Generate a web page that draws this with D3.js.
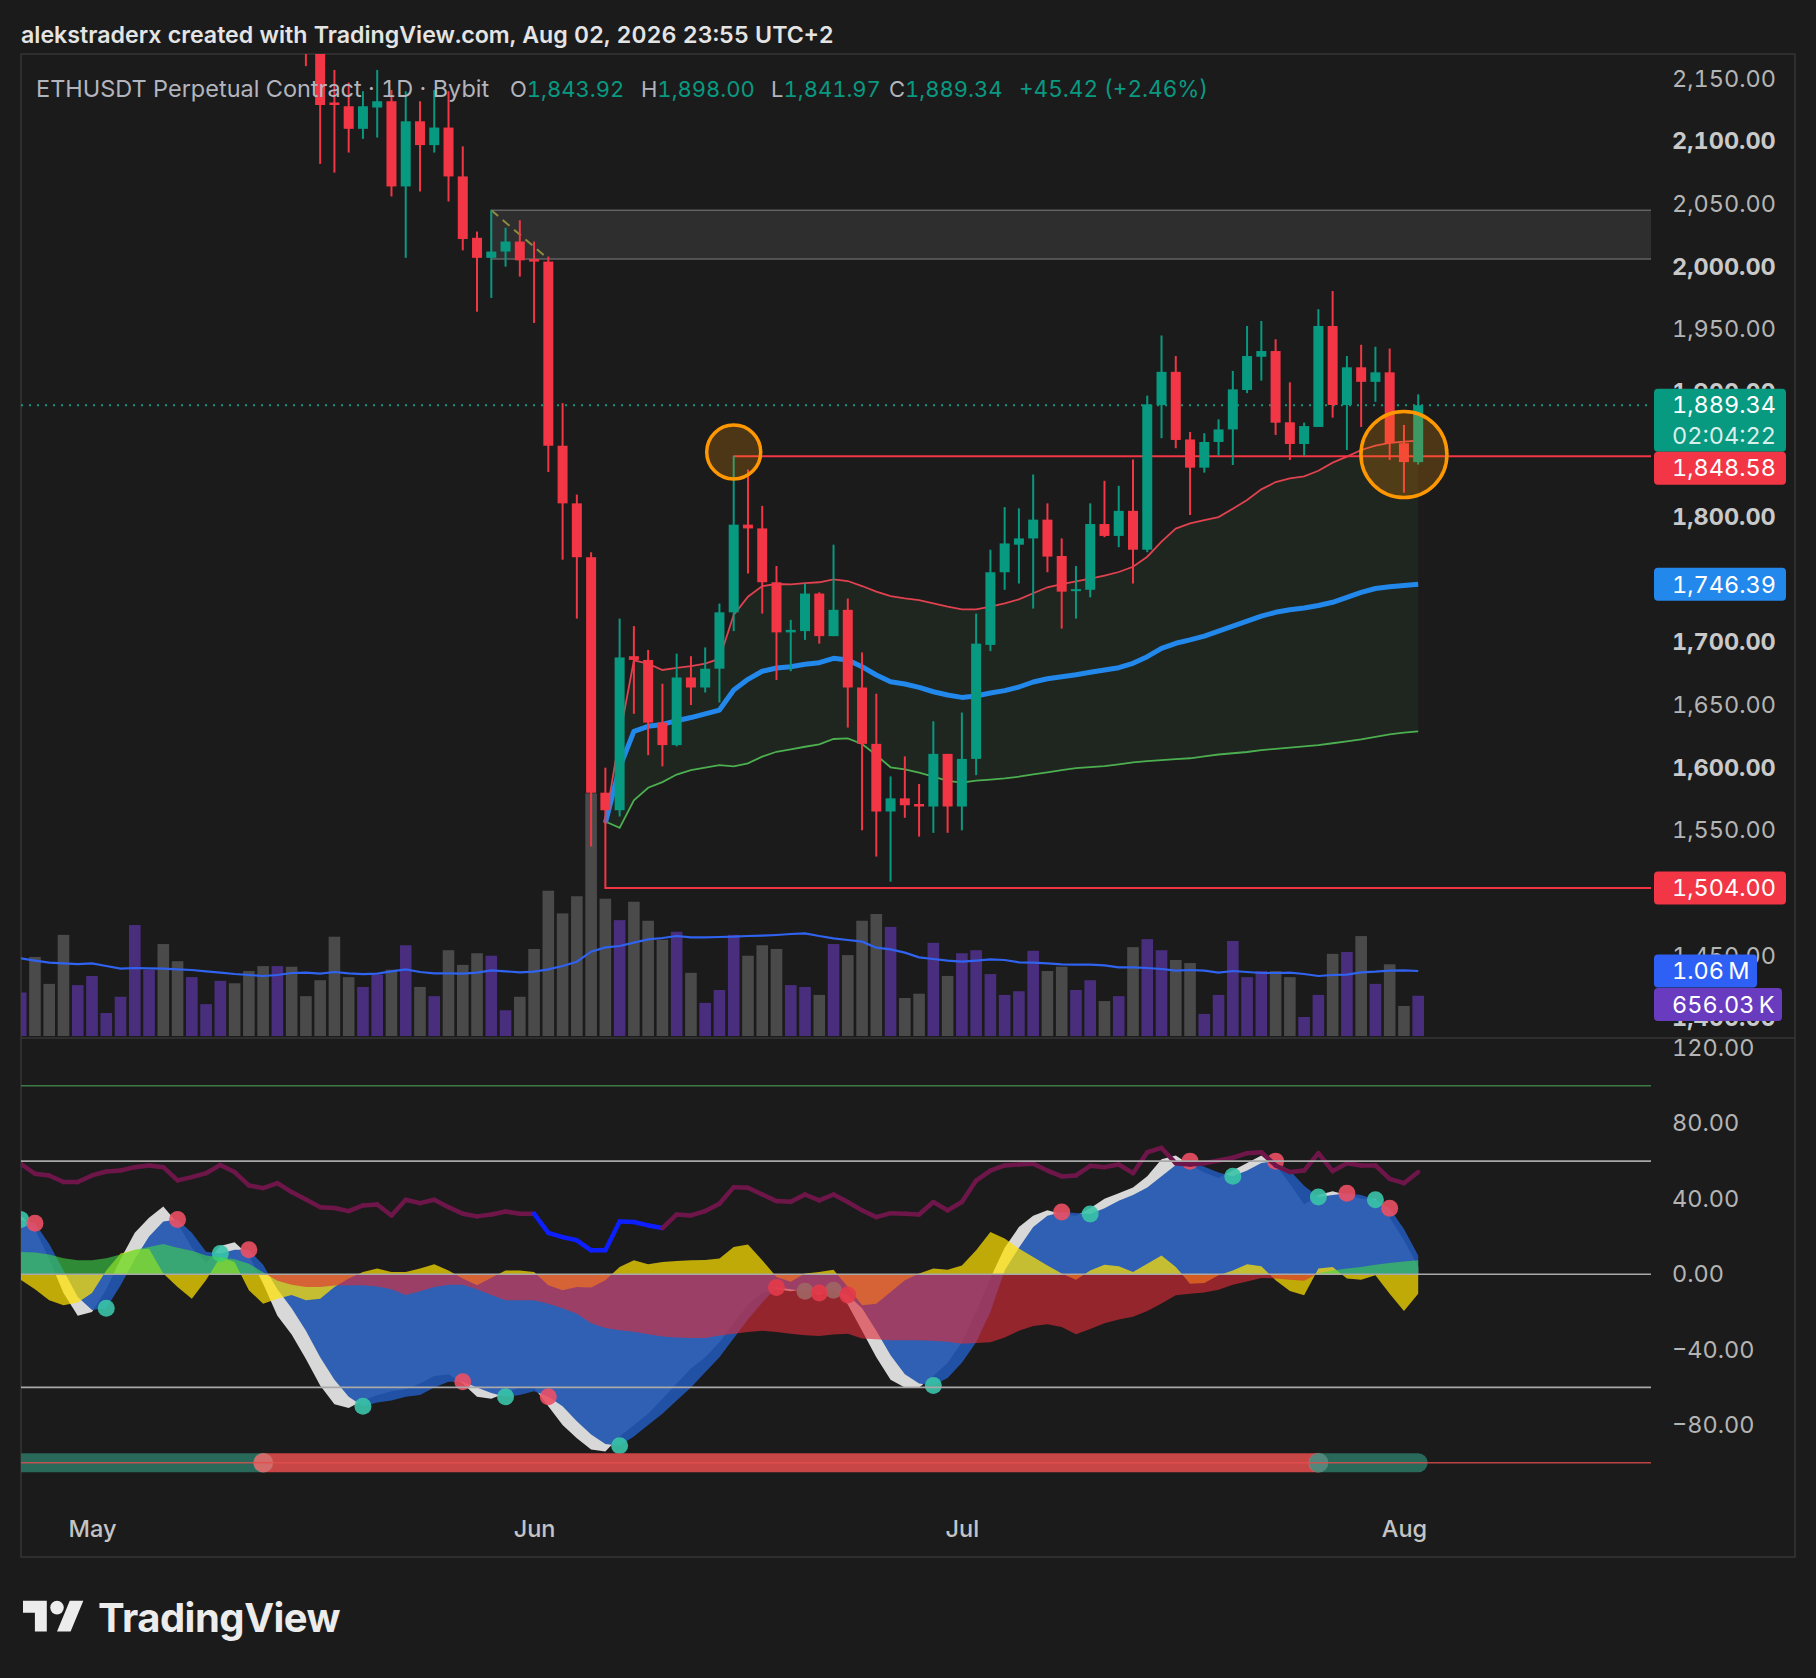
<!DOCTYPE html>
<html><head><meta charset="utf-8">
<script src="https://cdn.jsdelivr.net/npm/d3@7"></script>
<style>
html,body{margin:0;padding:0;background:#1b1b1b;}
svg{display:block;font-family:Inter,"Noto Sans",sans-serif;font-variant-numeric:tabular-nums;}
</style></head><body>
<svg id="c" width="1816" height="1678"></svg>
<script>
// ---------------- DATA ----------------
const dates = d3.utcDay.range(new Date(Date.UTC(2026,3,26)), new Date(Date.UTC(2026,7,3))); // Apr 26 .. Aug 2
const open  = [2290,2330,2300,2255,2210,2232,2255,2268,2282,2335,2352,2305,2270,2282,2288,2302,2270,2245,2218,2238,2215,2188,2131,2128,2110,2127,2132,2064,2116,2097,2111,2072,2023,2007,2012,2020,2006,2004,1857,1811,1768,1580,1566,1689,1686,1636,1618,1672,1664,1679,1724,1794,1791,1748,1708,1709,1739,1705,1726,1664,1619,1565,1575.5,1571,1569,1611,1569,1607,1698,1756,1778,1783,1798,1769,1741,1742,1794.5,1785,1805,1774,1889.5,1916,1862,1839.5,1860,1870,1901.5,1928,1932.6,1875.7,1858.4,1872,1952.6,1889.5,1919.6,1908,1915.6,1859,1843.92];
const high  = [2345,2350,2310,2270,2245,2265,2275,2290,2345,2370,2365,2318,2290,2295,2310,2308,2280,2255,2248,2245,2232,2200,2157,2147,2140,2157,2141,2140,2132,2141,2140,2096,2028,2045,2031,2037,2020,2008,1891,1818,1772,1600,1719,1713,1694,1667,1691,1689,1696,1731,1849,1838,1809,1761,1718,1747,1740,1778,1735,1692,1659,1593,1609,1587,1637,1611,1644,1723,1774,1808,1807,1834,1811,1783,1761,1811,1829,1825,1846,1897,1945,1928.6,1868,1867,1878,1916.7,1952.6,1956.6,1942,1907.6,1875.4,1966,1980.5,1928.6,1937.6,1936,1934.6,1873.6,1898];
const low   = [2270,2280,2240,2195,2190,2220,2245,2255,2275,2320,2290,2255,2248,2270,2275,2262,2232,2205,2210,2205,2160,2082,2075,2091,2102,2103,2056,2007,2060,2091,2052,2013,1964,1975,2000,1992,1955,1836,1766,1719,1537,1555,1561,1643,1610,1601,1617,1650,1660,1652,1709,1755,1723,1670,1677,1702,1699,1705,1632,1550,1529,1509,1560,1545,1548,1548,1550,1594,1693,1742,1747,1727,1756,1711,1719,1736,1784,1776,1747,1772,1863,1855,1801.7,1835.5,1849,1841.6,1899,1909,1865.6,1845.6,1849,1872,1879.4,1853.6,1872,1892,1845.6,1819.5,1841.97];
const close = [2330,2300,2255,2210,2232,2255,2268,2282,2335,2352,2305,2270,2282,2288,2302,2270,2245,2218,2238,2215,2188,2129,2129,2110,2128,2132,2064,2116,2097,2111,2072,2022,2007,2012,2020,2005,2004,1857,1811,1768,1580,1566,1688,1686,1636,1618,1672,1664,1679,1724,1794,1791,1748,1708,1710,1739,1705,1726,1664,1619,1565,1575.5,1570,1569,1611,1569,1607,1699,1756,1779,1783,1798,1768.5,1740.5,1742.5,1794.5,1785,1805,1774,1890,1916,1861.6,1839.5,1860,1870,1902,1928.6,1932.6,1875.4,1858.4,1872.7,1952.6,1889.5,1919.6,1908,1915.6,1859,1843.92,1889.34];
const volume = [0.71,1.29,0.85,1.65,0.83,0.98,0.375,0.64,1.81,1.08,1.50,1.22,0.96,0.52,0.90,0.86,1.06,1.14,1.14,1.13,0.65,0.91,1.62,0.96,0.80,1.00,1.08,1.48,0.80,0.65,1.40,1.16,1.35,1.31,0.42,0.64,1.42,2.37,2.00,2.28,3.96,2.24,1.89,2.19,1.88,1.57,1.70,1.03,0.54,0.75,1.65,1.31,1.48,1.42,0.83,0.80,0.67,1.50,1.32,1.88,1.99,1.78,0.62,0.69,1.52,0.98,1.35,1.40,1.01,0.67,0.73,1.39,1.06,1.13,0.75,0.91,0.57,0.65,1.45,1.58,1.40,1.24,1.19,0.36,0.67,1.55,0.96,1.06,1.06,0.96,0.31,0.67,1.34,1.37,1.63,0.85,1.17,0.49,0.65603];
const volumeMA = [1.267,1.229,1.196,1.185,1.174,1.185,1.142,1.098,1.109,1.104,1.098,1.087,1.077,1.055,1.033,1.011,0.995,0.979,0.995,1.028,1.033,1.017,1.044,1.022,1.011,1.017,1.055,1.087,1.044,1.022,1.022,1.017,1.033,1.071,1.055,1.038,1.049,1.087,1.142,1.212,1.376,1.446,1.468,1.523,1.577,1.599,1.631,1.610,1.610,1.615,1.620,1.631,1.637,1.648,1.664,1.675,1.631,1.593,1.566,1.539,1.441,1.414,1.360,1.283,1.256,1.229,1.212,1.229,1.251,1.240,1.202,1.196,1.185,1.169,1.163,1.163,1.153,1.120,1.120,1.109,1.093,1.066,1.077,1.066,1.033,1.060,1.044,1.028,1.028,1.033,1.011,0.979,0.995,1.000,1.038,1.049,1.066,1.07,1.06];
// anchored VWAP + bands, starting at bar index 41 (Jun 6)
const anchorIndex = 41;
const vwapLine  = [1556,1600,1629,1633,1634.5,1637.5,1640,1643,1646,1662,1670.5,1677,1679.6,1680.6,1682.5,1683.8,1687.3,1686,1680.6,1674,1668.6,1666.8,1664.1,1660.6,1658,1656.1,1657.2,1659.6,1661.5,1664.4,1668.4,1671,1672.6,1674.2,1676.1,1678,1679.8,1683.3,1688.6,1695.3,1699.3,1702,1705,1709,1713,1717,1721,1724,1726,1727.5,1729.5,1732,1736,1740,1743,1744.5,1745.5,1746.39];
const upperBand = [1557,1625,1685.6,1683,1678,1679.6,1681,1683,1687,1722,1736.5,1745,1746.6,1746.4,1747.4,1748,1750.3,1749,1745,1740.5,1737,1735.2,1733.8,1731.2,1728.5,1726.4,1726.4,1728.5,1731.2,1734.4,1739.2,1744,1746.6,1748.8,1750.9,1753.3,1756.2,1760.4,1768.4,1780.4,1790.8,1795,1797.7,1800,1806.7,1813.7,1822.2,1828,1831,1832.6,1837,1843.5,1848.3,1853.6,1857,1859.2,1860.2,1861];
const lowerBand = [1557,1552,1574,1584,1588.5,1594.5,1598,1600,1602,1601,1603.5,1608.8,1612.7,1614.6,1616.7,1618.6,1622.9,1623.4,1618.9,1610,1600.3,1598.7,1596,1592.8,1589.4,1588,1589.6,1590.5,1591.5,1592.8,1594.7,1596.3,1598.1,1599.7,1600.5,1601.3,1602.7,1604.3,1605.3,1606.1,1606.9,1607.5,1609,1610.5,1611.5,1612.5,1614,1615,1616,1617,1618,1619.5,1621,1622.5,1624.5,1626.5,1628,1629];
// oscillator series
const rsi = [58.6,53.3,52.4,48.9,48.9,52.4,54.5,55.0,56.8,57.7,56.8,49.8,51.5,53.6,58.0,54.2,47.1,45.7,48.3,43.6,39.7,35.6,35.1,33.5,36.5,37.0,31.2,39.5,37.7,39.5,35.6,32.1,30.7,31.7,33.3,32.1,32.1,21.9,19.7,18.0,12.7,12.7,28.0,27.7,25.9,24.5,31.7,31.2,33.5,37.4,46.2,45.9,42.3,38.8,38.4,42.3,39.2,42.3,38.3,33.9,30.3,32.4,32.1,31.7,38.3,33.9,38.3,49.7,55.0,57.7,58.2,58.6,55.0,51.9,52.4,57.5,56.8,58.2,53.6,64.7,67.0,58.9,58.2,58.9,60.3,61.8,64.2,64.7,57.7,54.2,55.0,64.2,54.7,58.9,57.7,57.7,50.6,48.3,54.2];
const wave1 = [31,24,8,-10,-22,-20,-8,8,22,30,36,27,14,6,15,17,10,-5,-22,-32,-45,-59,-69,-71,-67,-64,-62,-61,-58,-54,-53,-58,-65,-66,-63,-60,-60,-70,-80,-87,-93,-94,-86,-80,-74,-66,-58,-50,-44,-36,-26,-16,-10,-8,-9,-8,-11,-7,-16,-30,-44,-56,-60,-60,-54,-47,-36,-20,-2,14,25,31,34,32,31,35,40,43,46,52,61,63,58,54,51,55,59,63,58,48,37,42,44,42,40,40,30,18,4];
const wave2 = [29,27,16,2,-12,-19,-18,-6,8,20,28,29,22,12,11,13,13,5,-8,-18,-30,-44,-56,-65,-70,-68,-67,-65,-64,-60,-57,-57,-60,-63,-65,-64,-62,-65,-70,-78,-85,-90,-91,-86,-80,-74,-67,-60,-52,-44,-34,-24,-15,-7,-8,-9,-10,-8.5,-11,-18,-30,-43,-53,-58,-59,-55,-47,-36,-20,2,14,25,31,33,32.5,32,35,39,42,46,52,58,60,57,54,52,55,59,60,55,47,41,42,43,42,39.5,35,24,10];
const vwapOsc = [-3,-8,-13.8,-16.5,-15,-10,2,11,13,13.5,0.4,-6.7,-13,-3,9.2,6.5,-8.5,-15.6,-13,-11,-13.8,-13,-6.7,-2.3,1.2,3,1.2,1.2,3,5.3,2,-2.3,-5.8,-1.8,2,2,1.2,-5.8,-8.5,-6.7,-7,-3.2,3.9,7.4,5.3,6.5,7,7.4,7.5,8.3,14.4,15.8,7.4,-1.4,-4,0.4,1.2,2.4,-6.7,-16.5,-15.6,-9.4,-3.2,0.4,3,2.4,4.7,12.7,22.4,18.9,13.6,9.2,4.7,0.4,-2.9,2,5,4.2,1.2,5.6,10,3.9,-5,-4.6,-0.5,2,5.3,4.2,-3.2,-8.9,-11.2,3,3.9,-2.3,-2.9,-0.5,-10.3,-19.5,-10.3];
const mfi = [11.8,11.5,10.5,8.5,7.4,7.4,8.5,10.5,13,14.5,16,14,12.5,10,9,8,5.6,1,-3.5,-5.5,-6.7,-6.7,-6,-5.8,-5.8,-6.5,-8,-11,-9,-6.7,-5.5,-5.5,-8,-11,-13.8,-13.8,-13.8,-15.6,-18,-21,-26,-28.5,-29.7,-30.5,-31.8,-33,-33.5,-33.8,-33.8,-32.5,-31.5,-30.6,-30,-30.6,-31.5,-32.4,-32.8,-32,-31.5,-34.1,-34.5,-35,-35,-35,-35.3,-35.8,-36.8,-36.5,-36,-33.5,-30,-27.5,-26.5,-28,-31.8,-29,-26,-24,-22.6,-19.5,-15.5,-11.2,-10.3,-9.7,-8.2,-5.5,-3.8,-2,-2.2,-2.9,-3.5,0.5,2,3,3.9,5,6,6.8,7.4];
const crossUpDays   = [0,6,14,24,34,42,55,57,64,75,85,91,95];
const crossDownDays = [1,11,16,31,37,53,56,58,73,82,88,93,96];
const mfiBarSegments = [{from:0,to:17,bull:true},{from:17,to:91,bull:false},{from:91,to:98,bull:true}];
// drawings
const supplyZone = {fromIndex:33, top:2045, bottom:2006};
const supplyDiagonal = [{i:33,p:2045},{i:37,p:2006}];
const resistance = {fromIndex:50, price:1848.58};
const support = {fromIndex:41, startPrice:1556, price:1504};
const highlightCircles = [{i:50, p:1852}, {i:97, p:1850}];
// axis ticks / texts (ticks fully hidden behind price labels are omitted, as in the reference)
const priceTicks = [1400,1450,1550,1600,1650,1700,1800,1900,1950,2000,2050,2100,2150];
const oscTicks = [120,80,40,0,-40,-80];
const oscLevels = [{v:100,c:'#3d7a44'},{v:60,c:'#a9a9a9'},{v:0,c:'#a9a9a9'},{v:-60,c:'#a9a9a9'}];
const monthTicks = [new Date(Date.UTC(2026,4,1)),new Date(Date.UTC(2026,5,1)),new Date(Date.UTC(2026,6,1)),new Date(Date.UTC(2026,7,1))];
const headerText = 'alekstraderx created with TradingView.com, Aug 02, 2026 23:55 UTC+2';
const symbolText = 'ETHUSDT Perpetual Contract · 1D · Bybit';
const ohlcLegend = [{k:'O',v:'1,843.92'},{k:'H',v:'1,898.00'},{k:'L',v:'1,841.97'},{k:'C',v:'1,889.34'}];
const changeText = '+45.42 (+2.46%)';
const countdown = '02:04:22';

// ---------------- LAYOUT ----------------
const W=1816,H=1678;
const FX0=21,FX1=1795,FY0=54,FY1=1557;
const PL=21,PR=1651;
const P_TOP=54,P_BOT=1038,O_TOP=1038,O_BOT=1500;
const AX=1672, BOXX=1654, FS=23.5;
const UP='#089981', DN='#f23645';

const x = d3.scaleUtc().domain([dates[0],dates[98]]).range([20.7,1418.2]);
const y = d3.scaleLinear().domain([1550,2150]).range([830.3,78.7]);
const yv = d3.scaleLinear().domain([0,1]).range([1036,974.7]);
const yo = d3.scaleLinear().domain([-100,120]).range([1462.8,1048]);
const X = i => x(dates[i]);

const svg = d3.select('#c');
svg.append('rect').attr('width',W).attr('height',H).attr('fill','#1b1b1b');
const defs = svg.append('defs');
defs.append('clipPath').attr('id','cp').append('rect').attr('x',PL).attr('y',P_TOP).attr('width',PR-PL).attr('height',P_BOT-P_TOP-1);
defs.append('clipPath').attr('id','co').append('rect').attr('x',PL).attr('y',O_TOP+1).attr('width',PR-PL).attr('height',O_BOT-O_TOP-1);
defs.append('clipPath').attr('id','cpos').append('rect').attr('x',0).attr('y',0).attr('width',W).attr('height',yo(0));
defs.append('clipPath').attr('id','cneg').append('rect').attr('x',0).attr('y',yo(0)).attr('width',W).attr('height',H);

// frame
svg.append('rect').attr('x',FX0).attr('y',FY0).attr('width',FX1-FX0).attr('height',FY1-FY0)
  .attr('fill','none').attr('stroke','#363636').attr('stroke-width',1.5);
svg.append('line').attr('x1',FX0).attr('x2',FX1).attr('y1',P_BOT).attr('y2',P_BOT).attr('stroke','#363636').attr('stroke-width',1.5);

// ---------------- PRICE PANE ----------------
const gp = svg.append('g').attr('clip-path','url(#cp)');
const bandIdx = d3.range(anchorIndex, 99);
gp.append('path').datum(bandIdx)
  .attr('d', d3.area().x(i=>X(i)).y0(i=>y(lowerBand[i-anchorIndex])).y1(i=>y(upperBand[i-anchorIndex])))
  .attr('fill','rgba(90,170,90,0.07)');
gp.selectAll('rect.vol').data(d3.range(99)).join('rect')
  .attr('x',i=>X(i)-5.8).attr('width',11.6)
  .attr('y',i=>yv(volume[i])).attr('height',i=>yv(0)-yv(volume[i]))
  .attr('fill',i=>close[i]>=open[i]?'#4a2e7e':'#4a4a4a');
gp.append('path').datum(d3.range(99))
  .attr('d',d3.line().x(i=>X(i)).y(i=>yv(volumeMA[i])))
  .attr('fill','none').attr('stroke','#2f63f0').attr('stroke-width',2.2);
gp.append('rect').attr('x',X(supplyZone.fromIndex)).attr('y',y(supplyZone.top))
  .attr('width',PR+5-X(supplyZone.fromIndex)).attr('height',y(supplyZone.bottom)-y(supplyZone.top))
  .attr('fill','rgba(255,255,255,0.085)').attr('stroke','rgba(255,255,255,0.28)').attr('stroke-width',1.5);
gp.append('line').attr('x1',X(supplyDiagonal[0].i)).attr('y1',y(supplyDiagonal[0].p))
  .attr('x2',X(supplyDiagonal[1].i)).attr('y2',y(supplyDiagonal[1].p))
  .attr('stroke','#8f8c3e').attr('stroke-width',2).attr('stroke-dasharray','9 6');
const bl = arr => d3.line().x(i=>X(i)).y(i=>y(arr[i-anchorIndex]));
gp.append('path').datum(bandIdx).attr('d',bl(upperBand)).attr('fill','none').attr('stroke','#e0424f').attr('stroke-width',1.8);
gp.append('path').datum(bandIdx).attr('d',bl(lowerBand)).attr('fill','none').attr('stroke','#4caf50').attr('stroke-width',1.8);
gp.append('path').datum(bandIdx).attr('d',bl(vwapLine)).attr('fill','none').attr('stroke','#2288ec').attr('stroke-width',5).attr('stroke-linejoin','round');
gp.append('line').attr('x1',X(resistance.fromIndex)).attr('x2',PR).attr('y1',y(resistance.price)).attr('y2',y(resistance.price))
  .attr('stroke',DN).attr('stroke-width',2);
gp.append('path').attr('d',`M${X(support.fromIndex)},${y(support.startPrice)}V${y(support.price)}H${PR}`)
  .attr('fill','none').attr('stroke',DN).attr('stroke-width',2);
gp.append('line').attr('x1',PL).attr('x2',PR).attr('y1',y(close[98])).attr('y2',y(close[98]))
  .attr('stroke',UP).attr('stroke-width',2).attr('stroke-dasharray','2 6');
const cg = gp.append('g');
d3.range(99).forEach(i=>{
  const c = close[i]>=open[i]?UP:DN;
  cg.append('line').attr('x1',X(i)).attr('x2',X(i)).attr('y1',y(high[i])).attr('y2',y(low[i])).attr('stroke',c).attr('stroke-width',2);
  const t=y(Math.max(open[i],close[i])), b=y(Math.min(open[i],close[i]));
  cg.append('rect').attr('x',X(i)-5).attr('width',10).attr('y',t).attr('height',Math.max(2,b-t)).attr('fill',c);
});
const circR=[27,43];
highlightCircles.forEach((cc,k)=>{
  gp.append('circle').attr('cx',X(cc.i)).attr('cy',y(cc.p)).attr('r',circR[k])
    .attr('fill','rgba(255,152,0,0.22)').attr('stroke','#ff9800').attr('stroke-width',3.5);
});

// ---------------- OSCILLATOR ----------------
const go = svg.append('g').attr('clip-path','url(#co)');
const all = d3.range(99);
const oArea = arr => d3.area().x(i=>X(i)).y0(yo(0)).y1(i=>yo(arr[i]));
go.append('path').datum(all).attr('d',oArea(wave1)).attr('fill','#d8d8d8');
go.append('path').datum(all).attr('d',oArea(wave2)).attr('fill','rgba(34,86,176,0.92)');
go.append('path').datum(all).attr('d',oArea(vwapOsc)).attr('fill','rgba(255,226,0,0.72)');
crossUpDays.forEach(i=>go.append('circle').attr('cx',X(i)).attr('cy',yo(wave2[i])).attr('r',8.5).attr('fill','rgba(58,196,168,0.9)'));
crossDownDays.forEach(i=>go.append('circle').attr('cx',X(i)).attr('cy',yo(wave2[i])).attr('r',8.5).attr('fill','rgba(236,80,100,0.9)'));
go.append('path').datum(all).attr('d',oArea(mfi)).attr('fill','rgba(62,215,72,0.6)').attr('clip-path','url(#cpos)');
go.append('path').datum(all).attr('d',oArea(mfi)).attr('fill','rgba(222,44,56,0.62)').attr('clip-path','url(#cneg)');
for(let i=1;i<99;i++){
  go.append('line').attr('x1',X(i-1)).attr('y1',yo(rsi[i-1])).attr('x2',X(i)).attr('y2',yo(rsi[i]))
    .attr('stroke',rsi[i]<30?'#0d1fff':'#6e1649').attr('stroke-width',4.5).attr('stroke-linecap','round');
}
oscLevels.forEach(l=>go.append('line').attr('x1',PL).attr('x2',PR).attr('y1',yo(l.v)).attr('y2',yo(l.v)).attr('stroke',l.c).attr('stroke-width',1.6));
mfiBarSegments.forEach(s=>{
  go.append('line').attr('x1',X(s.from)).attr('x2',X(s.to)).attr('y1',yo(-100)).attr('y2',yo(-100))
    .attr('stroke',s.bull?'#28695a':'#c84646').attr('stroke-width',19).attr('stroke-linecap','round');
});
mfiBarSegments.slice(1).forEach(s=>go.append('circle').attr('cx',X(s.from)).attr('cy',yo(-100)).attr('r',10).attr('fill','rgba(255,255,255,0.2)'));
go.append('line').attr('x1',PL).attr('x2',PR).attr('y1',yo(-100)).attr('y2',yo(-100)).attr('stroke','rgba(228,78,78,0.8)').attr('stroke-width',1.6);

// ---------------- AXES ----------------
const pa = svg.append('g').attr('transform',`translate(${AX},0)`)
  .call(d3.axisRight(y).tickValues(priceTicks).tickFormat(d3.format(',.2f')).tickSize(0).tickPadding(0));
pa.select('.domain').remove();
pa.selectAll('text').attr('font-size',FS).attr('font-family','Inter')
  .attr('font-weight',d=>d%100===0?700:400).attr('fill',d=>d%100===0?'#c9c9c9':'#b4b4b4');
const oa = svg.append('g').attr('transform',`translate(${AX},0)`)
  .call(d3.axisRight(yo).tickValues(oscTicks).tickFormat(d=>(d<0?'\u2212':'')+Math.abs(d).toFixed(2)).tickSize(0).tickPadding(0));
oa.select('.domain').remove();
oa.selectAll('text').attr('font-size',FS).attr('font-family','Inter').attr('fill','#b4b4b4');
const ta = svg.append('g').attr('transform','translate(0,1520)')
  .call(d3.axisBottom(x).tickValues(monthTicks).tickFormat(d3.utcFormat('%b')).tickSize(0).tickPadding(0));
ta.select('.domain').remove();
ta.selectAll('text').attr('font-size',FS).attr('font-family','Inter').attr('font-weight',500).attr('fill','#c4c4c4');

// ---------------- LABEL BOXES ----------------
function box(yTop, h, w, fill, lines){
  svg.append('rect').attr('x',BOXX).attr('y',yTop).attr('width',w).attr('height',h).attr('rx',4).attr('fill',fill);
  lines.forEach((t,k)=>svg.append('text').attr('x',AX).attr('y',yTop+16.5+k*31).attr('dy','0.35em')
    .attr('font-size',FS).attr('fill',k===0?'#ffffff':'rgba(255,255,255,0.85)').text(t));
}
const fmt = d3.format(',.2f');
let lastBottom = -1e9;
const priceLabels = [
  {v:close[98], lines:[fmt(close[98]),countdown], fill:UP, h:63},
  {v:resistance.price, lines:[fmt(resistance.price)], fill:DN, h:33},
  {v:vwapLine[vwapLine.length-1], lines:[fmt(vwapLine[vwapLine.length-1])], fill:'#2288ec', h:33},
  {v:support.price, lines:[fmt(support.price)], fill:DN, h:33}
];
priceLabels.forEach(l=>{
  let top = y(l.v)-16.5; if(top<lastBottom) top=lastBottom;
  box(top,l.h,132,l.fill,l.lines); lastBottom=top+l.h;
});
let vt = yv(volumeMA[98])-16.5; box(vt,33,103,'#2f60f5',[d3.format('.2f')(volumeMA[98])+'\u2009M']);
let vt2 = Math.max(yv(volume[98])-16.5, vt+33.5); box(vt2,33,128,'#683bbf',[d3.format('.2f')(volume[98]*1000)+'\u2009K']);

// ---------------- HEADER / LEGEND / FOOTER ----------------
svg.append('text').attr('x',21).attr('y',43).attr('font-size',23.2).attr('font-weight',600).attr('fill','#e4e4e4').text(headerText);
svg.append('text').attr('x',36).attr('y',97).attr('font-size',23.5).attr('fill','#b2b5be').text(symbolText);
const legX=[510,641,771,889];
ohlcLegend.forEach((o,k)=>{
  const t=svg.append('text').attr('x',legX[k]).attr('y',97).attr('font-size',22);
  t.append('tspan').attr('fill','#b2b5be').text(o.k);
  t.append('tspan').attr('fill',UP).text(o.v);
});
svg.append('text').attr('x',1019).attr('y',97).attr('font-size',22.5).attr('fill',UP).text(changeText);
const lg = svg.append('g').attr('transform','translate(23,1594) scale(1.7)').attr('fill','#ececec');
lg.append('path').attr('d','M14 22H7V11H0V4h14v18zM28 22h-8l7.5-18h8L28 22z');
lg.append('circle').attr('cx',20).attr('cy',8).attr('r',4);
svg.append('text').attr('x',98).attr('y',1632).attr('font-size',40).attr('font-weight',700).attr('fill','#ececec').attr('letter-spacing',-0.5).text('TradingView');
</script>
</body></html>
